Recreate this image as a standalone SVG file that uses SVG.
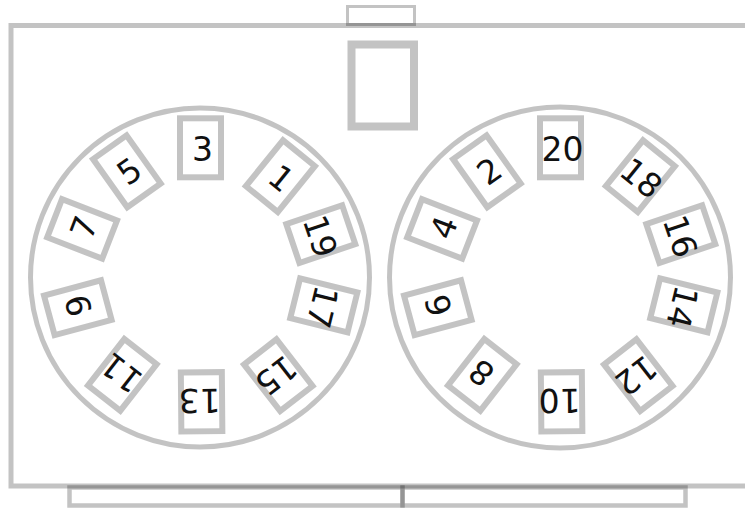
<svg xmlns="http://www.w3.org/2000/svg" xmlns:xlink="http://www.w3.org/1999/xlink" width="745" height="511" viewBox="0 0 745 511">
<style>
.ln{fill:none;stroke:#000;stroke-opacity:0.235}
.bx{fill:none;stroke:#000;stroke-opacity:0.235;stroke-width:6}
.lb{font-family:"DejaVu Sans",sans-serif;font-size:33px;fill:#111;text-anchor:middle}
</style>
<defs>
<rect id="box" class="bx" x="-20.5" y="-29.5" width="41" height="59"/>
</defs>
<rect fill="#fff" x="0" y="0" width="745" height="511"/>
<g id="frame">
<rect class="ln" stroke-width="5" x="11" y="25.5" width="760" height="460.5"/>
<rect class="ln" stroke-width="3" x="347.5" y="6.5" width="67" height="18"/>
<rect class="ln" stroke-width="8" x="351.5" y="44.5" width="62.5" height="82"/>
<rect class="ln" stroke-width="4.5" x="69.5" y="487.5" width="333" height="18"/>
<rect class="ln" stroke-width="4.5" x="402.5" y="487.5" width="283" height="18"/>
</g>
<g id="ring-left">
<circle class="ln" stroke-width="5" cx="200" cy="277.5" r="169.5"/>
<g id="n3" transform="translate(200.5,147.8) rotate(0)"><use xlink:href="#box"/><text class="lb" x="2" y="12.8">3</text></g>
<g id="n1" transform="translate(280.4,176.1) rotate(39)"><use xlink:href="#box"/><text class="lb" x="2" y="12.8">1</text></g>
<g id="n19" transform="translate(320.8,234.1) rotate(71.3)"><use xlink:href="#box"/><text class="lb" x="2" y="12.8">19</text></g>
<g id="n17" transform="translate(323.8,305.3) rotate(103.9)"><use xlink:href="#box"/><text class="lb" x="2" y="12.8">17</text></g>
<g id="n15" transform="translate(278.3,375.2) rotate(142.2)"><use xlink:href="#box"/><text class="lb" x="2" y="12.8">15</text></g>
<g id="n13" transform="translate(201.6,401.8) rotate(179.5)"><use xlink:href="#box"/><text class="lb" x="2" y="12.8">13</text></g>
<g id="n11" transform="translate(122.3,374.9) rotate(218)"><use xlink:href="#box"/><text class="lb" x="2" y="12.8">11</text></g>
<g id="n9" transform="translate(77.8,307.7) rotate(255)"><use xlink:href="#box"/><text class="lb" x="2" y="12.8">9</text></g>
<g id="n7" transform="translate(82.1,228.9) rotate(291.2)"><use xlink:href="#box"/><text class="lb" x="2" y="12.8">7</text></g>
<g id="n5" transform="translate(126.9,171.3) rotate(324.6)"><use xlink:href="#box"/><text class="lb" x="2" y="12.8">5</text></g>
</g>
<g id="ring-right">
<circle class="ln" stroke-width="5" cx="560" cy="277.5" r="170.5"/>
<g id="n20" transform="translate(560.5,147.8) rotate(0)"><use xlink:href="#box"/><text class="lb" x="2" y="12.8">20</text></g>
<g id="n18" transform="translate(640.4,176.1) rotate(39)"><use xlink:href="#box"/><text class="lb" x="2" y="12.8">18</text></g>
<g id="n16" transform="translate(680.8,234.1) rotate(71.3)"><use xlink:href="#box"/><text class="lb" x="2" y="12.8">16</text></g>
<g id="n14" transform="translate(683.8,305.3) rotate(103.9)"><use xlink:href="#box"/><text class="lb" x="2" y="12.8">14</text></g>
<g id="n12" transform="translate(638.3,375.2) rotate(142.2)"><use xlink:href="#box"/><text class="lb" x="2" y="12.8">12</text></g>
<g id="n10" transform="translate(561.6,401.8) rotate(179.5)"><use xlink:href="#box"/><text class="lb" x="2" y="12.8">10</text></g>
<g id="n8" transform="translate(482.3,374.9) rotate(218)"><use xlink:href="#box"/><text class="lb" x="2" y="12.8">8</text></g>
<g id="n6" transform="translate(437.8,307.7) rotate(255)"><use xlink:href="#box"/><text class="lb" x="2" y="12.8">6</text></g>
<g id="n4" transform="translate(442.1,228.9) rotate(291.2)"><use xlink:href="#box"/><text class="lb" x="2" y="12.8">4</text></g>
<g id="n2" transform="translate(486.9,171.3) rotate(324.6)"><use xlink:href="#box"/><text class="lb" x="2" y="12.8">2</text></g>
</g>
<g id="connectors"></g>
</svg>
